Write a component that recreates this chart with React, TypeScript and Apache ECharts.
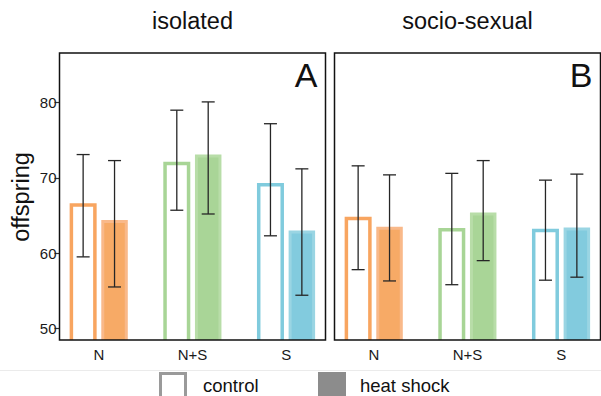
import React, { useEffect, useRef } from 'react';
import * as echarts from 'echarts';

const categories = ['N', 'N+S', 'S'];
const panelTitles = ['isolated', 'socio-sexual'];
const panelLetters = ['A', 'B'];
const yTicks = [50, 60, 70, 80];
const legendNames = ['control', 'heat shock'];

// isolated panel
const isoControlMean = [66.4, 71.9, 69.1];
const isoControlLow = [59.5, 65.7, 62.3];
const isoControlHigh = [73.1, 79.0, 77.2];
const isoHeatMean = [64.2, 72.9, 62.8];
const isoHeatLow = [55.5, 65.2, 54.4];
const isoHeatHigh = [72.3, 80.1, 71.2];

// socio-sexual panel
const socControlMean = [64.6, 63.1, 63.0];
const socControlLow = [57.8, 55.8, 56.4];
const socControlHigh = [71.6, 70.6, 69.7];
const socHeatMean = [63.3, 65.2, 63.2];
const socHeatLow = [56.3, 59.0, 56.8];
const socHeatHigh = [70.4, 72.3, 70.5];

const lineColors = ['#F8A560', '#A8D596', '#80CBDD'];
const fillColors = ['#F7AA66', '#A9D597', '#82CBDE'];
const fillEdges = ['#F9B98A', '#B8DDA8', '#9AD5E3'];

const FONT = 'Liberation Sans, Arial, Helvetica, sans-serif';
const GRID_TOP = 53;
const GRID_H = 287;
const GRID_LEFTS = [59.5, 334.5];
const GRID_W = 266;
const Y_MIN = 48.45;
const Y_MAX = 86.6;
const BAR_W = 23.5;
const BAR_OFFSET = 15.7;

export default function App() {
  const ref = useRef<HTMLDivElement>(null);
  useEffect(() => {
    document.body.style.margin = '0';
    if (!ref.current) return;
    const chart = echarts.init(ref.current, null, { renderer: 'svg' });

    const panels = [
      { cm: isoControlMean, cl: isoControlLow, ch: isoControlHigh, hm: isoHeatMean, hl: isoHeatLow, hh: isoHeatHigh },
      { cm: socControlMean, cl: socControlLow, ch: socControlHigh, hm: socHeatMean, hl: socHeatLow, hh: socHeatHigh },
    ];

    // data: [x, mean, low, high, colorIndex]
    const barRender = (offset: number, filled: boolean) => (params: any, api: any) => {
      const x = api.value(0);
      const m = api.value(1);
      const ci = api.value(4);
      const pTop = api.coord([x, m]);
      const pBot = api.coord([x, Y_MIN]);
      const cx = pTop[0] + offset;
      const x0 = cx - BAR_W / 2;
      const x1 = cx + BAR_W / 2;
      if (filled) {
        return {
          type: 'rect',
          shape: { x: x0, y: pTop[1], width: BAR_W, height: pBot[1] - pTop[1] + 2 },
          style: { fill: fillColors[ci], stroke: fillEdges[ci], lineWidth: 3 },
        };
      }
      return {
        type: 'polyline',
        shape: {
          points: [
            [x0, pBot[1] + 2],
            [x0, pTop[1]],
            [x1, pTop[1]],
            [x1, pBot[1] + 2],
          ],
        },
        style: { fill: 'none', stroke: lineColors[ci], lineWidth: 3.5, lineJoin: 'miter' },
      };
    };

    const errRender = (offset: number) => (params: any, api: any) => {
      const x = api.value(0);
      const lo = api.value(2);
      const hi = api.value(3);
      const pLo = api.coord([x, lo]);
      const pHi = api.coord([x, hi]);
      const cx = pLo[0] + offset;
      const style = { stroke: '#262626', lineWidth: 1.3 };
      return {
        type: 'group',
        children: [
          { type: 'line', shape: { x1: cx, y1: pHi[1], x2: cx, y2: pLo[1] }, style },
          { type: 'line', shape: { x1: cx - 6.5, y1: pHi[1], x2: cx + 6.5, y2: pHi[1] }, style },
          { type: 'line', shape: { x1: cx - 6.5, y1: pLo[1], x2: cx + 6.5, y2: pLo[1] }, style },
        ],
      };
    };

    const series: any[] = [];
    panels.forEach((p, k) => {
      const ctrlData = categories.map((c, i) => [i + 1, p.cm[i], p.cl[i], p.ch[i], i]);
      const heatData = categories.map((c, i) => [i + 1, p.hm[i], p.hl[i], p.hh[i], i]);
      series.push({
        type: 'custom',
        name: legendNames[0],
        xAxisIndex: k,
        yAxisIndex: k,
        clip: true,
        encode: { x: 0, y: [1, 2, 3] },
        renderItem: barRender(-BAR_OFFSET, false),
        data: ctrlData,
      });
      series.push({
        type: 'custom',
        name: legendNames[1],
        xAxisIndex: k,
        yAxisIndex: k,
        clip: true,
        encode: { x: 0, y: [1, 2, 3] },
        renderItem: barRender(BAR_OFFSET, true),
        data: heatData,
      });
      series.push({
        type: 'custom',
        xAxisIndex: k,
        yAxisIndex: k,
        z: 5,
        encode: { x: 0, y: [1, 2, 3] },
        renderItem: errRender(-BAR_OFFSET),
        data: ctrlData,
      });
      series.push({
        type: 'custom',
        xAxisIndex: k,
        yAxisIndex: k,
        z: 5,
        encode: { x: 0, y: [1, 2, 3] },
        renderItem: errRender(BAR_OFFSET),
        data: heatData,
      });
    });

    const graphics: any[] = [];
    GRID_LEFTS.forEach((l, k) => {
      graphics.push({
        type: 'rect',
        z: 100,
        shape: { x: l, y: GRID_TOP, width: GRID_W, height: GRID_H },
        style: { fill: 'none', stroke: '#111', lineWidth: 1.5 },
      });
      graphics.push({
        type: 'text',
        z: 100,
        x: l + GRID_W / 2,
        y: 21,
        style: { text: panelTitles[k], font: `23.5px ${FONT}`, fill: '#111', textAlign: 'center', textVerticalAlign: 'middle' },
      });
      graphics.push({
        type: 'text',
        z: 100,
        x: l + GRID_W - 8,
        y: 75,
        style: { text: panelLetters[k], font: `34px ${FONT}`, fill: '#111', textAlign: 'right', textVerticalAlign: 'middle' },
      });
    });
    graphics.push({
      type: 'text',
      x: 21,
      y: 197,
      rotation: Math.PI / 2,
      style: { text: 'offspring', font: `23.5px ${FONT}`, fill: '#111', textAlign: 'center', textVerticalAlign: 'middle' },
    });
    graphics.push({
      type: 'line',
      shape: { x1: 0, y1: 370.5, x2: 601, y2: 370.5 },
      style: { stroke: '#EBEBEB', lineWidth: 1 },
    });
    graphics.push({
      type: 'rect',
      shape: { x: 160.5, y: 373.5, width: 25, height: 26 },
      style: { fill: '#fff', stroke: '#9A9A9A', lineWidth: 3 },
    });
    graphics.push({
      type: 'rect',
      shape: { x: 318, y: 372, width: 28, height: 28 },
      style: { fill: '#8C8C8C' },
    });
    graphics.push({
      type: 'text',
      x: 203,
      y: 385,
      style: { text: legendNames[0], font: `18.5px ${FONT}`, fill: '#111', textVerticalAlign: 'middle' },
    });
    graphics.push({
      type: 'text',
      x: 360,
      y: 385,
      style: { text: legendNames[1], font: `18.5px ${FONT}`, fill: '#111', textVerticalAlign: 'middle' },
    });

    chart.setOption({
      animation: false,
      grid: GRID_LEFTS.map((l) => ({ left: l, top: GRID_TOP, width: GRID_W, height: GRID_H, show: false })),
      xAxis: GRID_LEFTS.map((l, k) => ({
        type: 'value',
        gridIndex: k,
        min: 0.58,
        max: 3.42,
        axisLine: { show: false },
        axisTick: { show: false },
        splitLine: { show: false },
        axisLabel: {
          customValues: [1, 2, 3],
          formatter: (v: number) => categories[Math.round(v) - 1] ?? '',
          color: '#1a1a1a',
          fontSize: 15,
          fontFamily: FONT,
          margin: 7,
        },
      })),
      yAxis: GRID_LEFTS.map((l, k) => ({
        type: 'value',
        gridIndex: k,
        min: Y_MIN,
        max: Y_MAX,
        axisLine: { show: false },
        splitLine: { show: false },
        axisTick: {
          show: k === 0,
          customValues: yTicks,
          length: 5,
          lineStyle: { color: '#333', width: 1.2 },
        },
        axisLabel: {
          show: k === 0,
          customValues: yTicks,
          color: '#1a1a1a',
          fontSize: 15,
          fontFamily: FONT,
          margin: 3,
        },
      })),
      series,
      graphic: graphics,
    });
    return () => chart.dispose();
  }, []);
  return <div ref={ref} style={{ width: 601, height: 396 }} />;
}
